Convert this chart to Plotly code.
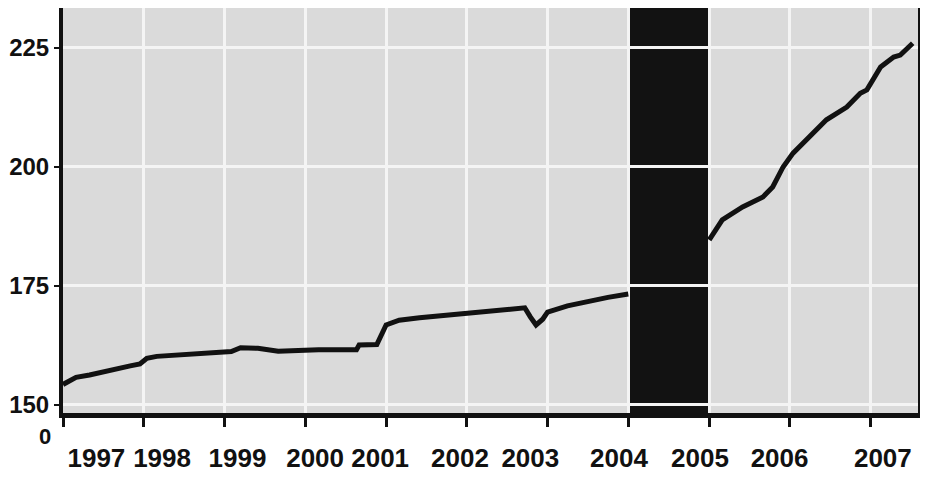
import plotly.graph_objects as go

# ---- data ----
dates = [
    "1997-01-01", "1997-03-01", "1997-05-01", "1997-07-01", "1997-09-01", "1997-11-01", "1997-12-15",
    "1998-01-15", "1998-03-01", "1998-06-01", "1998-09-01", "1998-12-01",
    "1999-02-01", "1999-03-15", "1999-06-01", "1999-09-01", "1999-12-01",
    "2000-03-01", "2000-06-01", "2000-08-20", "2000-09-01", "2000-11-20",
    "2001-01-01", "2001-03-01", "2001-06-01", "2001-09-01",
    "2002-01-01", "2002-04-01", "2002-07-01", "2002-09-20", "2002-10-15", "2002-11-10", "2002-12-10",
    "2003-01-01", "2003-04-01", "2003-07-01", "2003-10-01", "2004-01-01",
    "2004-06-01",
    "2005-01-01", "2005-03-01", "2005-06-01", "2005-09-01", "2005-10-15", "2005-12-01",
    "2006-01-15", "2006-03-15", "2006-06-15", "2006-09-15", "2006-11-15", "2006-12-15",
    "2007-02-15", "2007-04-15", "2007-05-15", "2007-07-10",
]
values = [
    154.3, 155.8, 156.3, 157.0, 157.6, 158.2, 158.6,
    159.8, 160.2, 160.4, 160.8, 161.0,
    161.2, 162.0, 161.9, 161.3, 161.5,
    161.6, 161.6, 161.6, 162.6, 162.7,
    166.8, 167.8, 168.3, 168.7,
    169.3, 169.8, 170.2, 170.4, 168.5, 166.8, 168.0,
    169.5, 170.8, 171.8, 172.6, 173.3,
    None,
    184.7, 188.9, 191.6, 193.7, 195.8, 200.0,
    202.9, 205.7, 209.9, 212.6, 215.5, 216.2,
    221.0, 223.1, 223.5, 226.0,
]

# year boundaries (tick marks + vertical grid) and the year labels
year_ticks = [f"{y}-01-01" for y in range(1997, 2008)]
year_labels = [str(y) for y in range(1997, 2008)]
# where the printed year labels sit along the axis (layout, as in the reference)
label_dates = [
    "1997-06-01", "1998-03-25", "1999-03-01", "2000-02-15", "2000-12-05", "2001-12-01",
    "2002-10-15", "2003-11-20", "2004-11-20", "2005-11-15", "2007-02-25",
]
y_ticks = [150, 175, 200, 225]

band_start, band_end = "2004-01-01", "2005-01-01"

fig = go.Figure()
fig.add_trace(go.Scatter(
    x=dates, y=values, mode="lines",
    line=dict(color="#111111", width=5),
    connectgaps=False, showlegend=False, hoverinfo="skip",
))

fig.add_shape(
    type="rect", xref="x", yref="paper",
    x0=band_start, x1=band_end, y0=0, y1=1,
    fillcolor="#121212", line=dict(width=0), layer="below",
)

fig.add_annotation(
    text="0", xref="paper", yref="paper", x=-0.021, y=-0.059,
    showarrow=False, xanchor="center", yanchor="middle",
    font=dict(family="Liberation Sans", size=22, color="#111111", weight="bold"),
)

fig.update_layout(
    width=928, height=480,
    margin=dict(l=55, r=18, t=0, b=75, autoexpand=False),
    paper_bgcolor="#ffffff",
    plot_bgcolor="#dadada",
    font=dict(family="Liberation Sans", color="#111111"),
)

fig.update_xaxes(
    range=["1997-01-01", "2007-08-03"],
    tickmode="array", tickvals=label_dates, ticktext=year_labels, tickangle=0,
    ticks="", showgrid=False,
    tickfont=dict(family="Liberation Sans", size=26, color="#111111", weight="bold"),
    ticklabelstandoff=18, ticklabeloverflow="allow",
    minor=dict(
        tickmode="array", tickvals=year_ticks,
        ticks="outside", ticklen=9, tickwidth=2.5, tickcolor="#111111",
        showgrid=True, gridcolor="#f4f4f4", gridwidth=2.5,
    ),
    showline=True, linecolor="#111111", linewidth=5, mirror=True,
    zeroline=False, automargin=False,
)

fig.update_yaxes(
    range=[148.3, 233.4],
    tickvals=y_ticks,
    ticks="outside", ticklen=5, tickwidth=2, tickcolor="#111111",
    tickfont=dict(family="Liberation Sans", size=24, color="#111111", weight="bold"),
    ticklabelstandoff=0,
    showgrid=True, gridcolor="#f4f4f4", gridwidth=3,
    showline=True, linecolor="#111111", linewidth=4, mirror=True,
    zeroline=False, automargin=False,
)

fig.write_html("out.html")
